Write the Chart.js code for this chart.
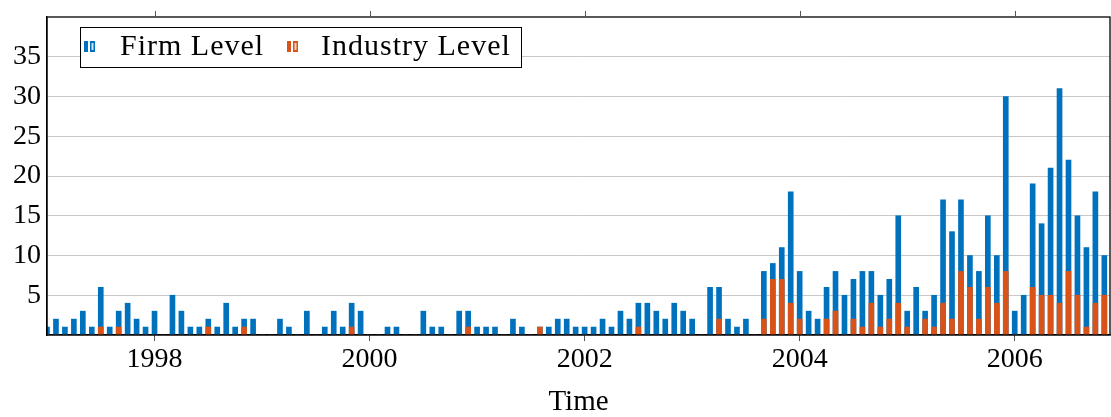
<!DOCTYPE html>
<html lang="en">
<head>
  <meta charset="UTF-8">
  <title>Firm Level vs Industry Level</title>
  <script src="https://cdn.jsdelivr.net/npm/chart.js"></script>
  <style>
    html, body { margin: 0; padding: 0; background: #fff; }
    #wrap { width: 1111px; height: 417px; position: relative; }
  </style>
</head>
<body>
  <div id="wrap"><canvas id="chart"></canvas></div>
  <script>
    // monthly counts, Jan 1997 .. Dec 2006
    const startYear = 1997;
    const firmLevel = [
      1, 2, 1, 2, 3, 1, 6, 1, 3, 4, 2, 1,
      3, 0, 5, 3, 1, 1, 2, 1, 4, 1, 2, 2,
      0, 0, 2, 1, 0, 3, 0, 1, 3, 1, 4, 3,
      0, 0, 1, 1, 0, 0, 3, 1, 1, 0, 3, 3,
      1, 1, 1, 0, 2, 1, 0, 1, 1, 2, 2, 1,
      1, 1, 2, 1, 3, 2, 4, 4, 3, 2, 4, 3,
      2, 0, 6, 6, 2, 1, 2, 0, 8, 9, 11, 18,
      8, 3, 2, 6, 8, 5, 7, 8, 8, 5, 7, 15,
      3, 6, 3, 5, 17, 13, 17, 10, 8, 15, 10, 30,
      3, 5, 19, 14, 21, 31, 22, 15, 11, 18, 10, 15
    ];
    const industryLevel = [
      0, 0, 0, 0, 0, 0, 1, 0, 1, 0, 0, 0,
      0, 0, 0, 0, 0, 0, 1, 0, 0, 0, 1, 0,
      0, 0, 0, 0, 0, 0, 0, 0, 0, 0, 1, 0,
      0, 0, 0, 0, 0, 0, 0, 0, 0, 0, 0, 1,
      0, 0, 0, 0, 0, 0, 0, 1, 0, 0, 0, 0,
      0, 0, 0, 0, 0, 0, 1, 0, 0, 0, 0, 0,
      0, 0, 0, 2, 0, 0, 0, 0, 2, 7, 7, 4,
      2, 0, 0, 2, 3, 0, 2, 1, 4, 1, 2, 4,
      1, 0, 2, 1, 4, 2, 8, 6, 2, 6, 4, 8,
      0, 0, 6, 5, 5, 4, 8, 5, 1, 4, 5, 3
    ];
    const yearTicks = [1998, 2000, 2002, 2004, 2006];
    const countTicks = [5, 10, 15, 20, 25, 30, 35];

    const BLUE = '#0072BD';
    const ORANGE = '#D95319';
    const serif = '"Liberation Serif", "DejaVu Serif", serif';

    const toPoints = arr => arr.map((v, i) => ({ x: startYear + i / 12, y: v }));

    // frame, top ticks and the boxed legend inside the plot
    const framePlugin = {
      id: 'frame',
      afterDraw(chart) {
        const { ctx, chartArea: a, scales } = chart;
        ctx.save();
        ctx.strokeStyle = '#000';
        ctx.lineWidth = 1.3;
        ctx.strokeRect(a.left, a.top, a.right - a.left, a.bottom - a.top);
        ctx.lineWidth = 1;
        ctx.strokeStyle = '#555';
        yearTicks.forEach(t => {
          const x = Math.round(scales.x.getPixelForValue(t)) + 0.5;
          ctx.beginPath();
          ctx.moveTo(x, a.top);
          ctx.lineTo(x, a.top - 6);
          ctx.stroke();
        });

        // legend box
        const bx = 80.5, by = 27.5, bw = 441, bh = 40;
        ctx.fillStyle = '#fff';
        ctx.fillRect(bx, by, bw, bh);
        ctx.strokeStyle = '#000';
        ctx.lineWidth = 1;
        ctx.strokeRect(bx, by, bw, bh);
        const items = [
          { x: 84, tx: 120, color: BLUE, inner: '#cfe3f3', label: chart.data.datasets[0].label },
          { x: 287, tx: 321, color: ORANGE, inner: '#f6d3c4', label: chart.data.datasets[1].label }
        ];
        ctx.font = '30px ' + serif;
        ctx.letterSpacing = '1px';
        ctx.textBaseline = 'middle';
        ctx.textAlign = 'left';
        items.forEach(it => {
          ctx.fillStyle = it.color;
          ctx.fillRect(it.x, 41, 4, 11);
          ctx.fillRect(it.x + 6, 41, 5, 11);
          ctx.fillStyle = it.inner;
          ctx.fillRect(it.x + 7.5, 43, 2, 7);
          ctx.fillStyle = '#000';
          ctx.fillText(it.label, it.tx, 47);
        });
        ctx.restore();
      }
    };

    new Chart(document.getElementById('chart'), {
      type: 'bar',
      data: {
        datasets: [
          {
            label: 'Firm Level',
            data: toPoints(firmLevel),
            backgroundColor: BLUE,
            barThickness: 5,
            grouped: false,
            order: 1
          },
          {
            label: 'Industry Level',
            data: toPoints(industryLevel),
            backgroundColor: ORANGE,
            barThickness: 5,
            grouped: false,
            order: 0
          }
        ]
      },
      options: {
        responsive: true,
        maintainAspectRatio: false,
        animation: false,
        layout: { padding: { top: 17, right: 1, left: 0, bottom: 0 } },
        plugins: { legend: { display: false }, tooltip: { enabled: false } },
        scales: {
          x: {
            type: 'linear',
            min: 1997,
            max: 2006.886,
            offset: false,
            afterBuildTicks: s => { s.ticks = yearTicks.map(v => ({ value: v })); },
            afterFit: s => {
              s.height = 82;
              s.paddingLeft = 0;
              s.paddingRight = 0;
            },
            ticks: {
              font: { family: serif, size: 28 },
              color: '#000',
              maxRotation: 0,
              autoSkip: false,
              padding: 2,
              callback: v => String(v)
            },
            grid: { offset: false, drawOnChartArea: false, drawTicks: true, tickLength: 6, color: '#555' },
            border: { color: '#000', width: 1.3 },
            title: {
              display: true,
              text: 'Time',
              color: '#000',
              font: { family: serif, size: 29, lineHeight: 1 },
              padding: { top: 0, bottom: 0 }
            }
          },
          y: {
            min: 0,
            max: 40,
            afterBuildTicks: s => { s.ticks = countTicks.map(v => ({ value: v })); },
            afterFit: s => {
              s.width = 47;
              s.paddingTop = 0;
              s.paddingBottom = 0;
            },
            ticks: {
              font: { family: serif, size: 28 },
              color: '#000',
              padding: 6
            },
            grid: { color: '#c8c8c8', drawTicks: false },
            border: { color: '#000', width: 1.3 }
          }
        }
      },
      plugins: [framePlugin]
    });
  </script>
</body>
</html>
